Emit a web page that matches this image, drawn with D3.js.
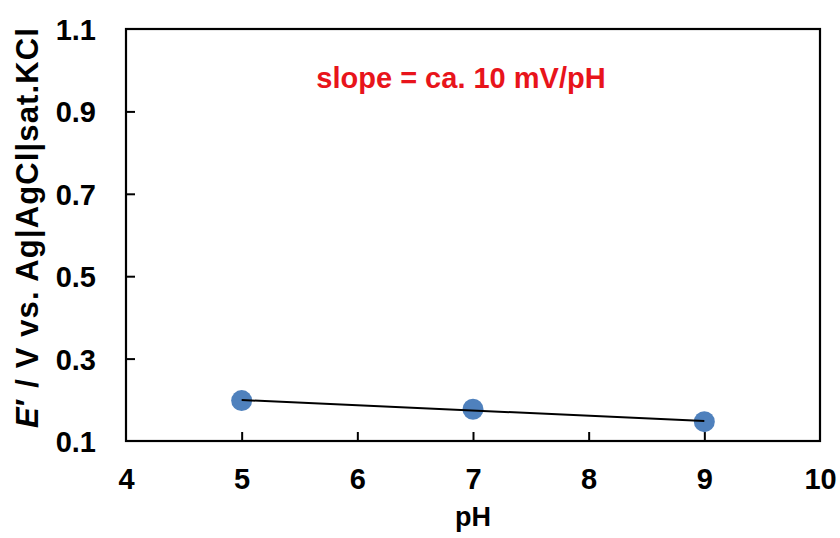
<!DOCTYPE html>
<html>
<head>
<meta charset="utf-8">
<script src="https://cdn.jsdelivr.net/npm/d3@7"></script>
<style>
  body { margin: 0; background: #fff; }
  svg text { font-family: "Liberation Sans", Arial, sans-serif; font-weight: bold; }
</style>
</head>
<body>
<div id="chart"></div>
<script>
// values
var pHValues = [5, 7, 9];
var potentials = [0.198, 0.177, 0.147];
var xTicks = [4, 5, 6, 7, 8, 9, 10];
var yTicks = [0.1, 0.3, 0.5, 0.7, 0.9, 1.1];
var annotation = "slope = ca. 10 mV/pH";

var W = 840, H = 538;
var margin = { left: 126, right: 20, top: 29, bottom: 97 };

var svg = d3.select('#chart')
    .append("svg")
    .attr("width", W)
    .attr("height", H);

var x = d3.scaleLinear().domain([4, 10]).range([margin.left, W - margin.right]);
var y = d3.scaleLinear().domain([0.1, 1.1]).range([H - margin.bottom, margin.top]);

// x axis, ticks point inward
var xAxis = svg.append("g")
    .attr("transform", "translate(0," + y(0.1) + ")")
    .call(d3.axisBottom(x).tickValues(xTicks).tickSizeInner(-9).tickSizeOuter(0).tickPadding(27).tickFormat(d3.format("d")));

var yAxis = svg.append("g")
    .attr("transform", "translate(" + x(4) + ",0)")
    .call(d3.axisLeft(y).tickValues(yTicks).tickSizeInner(-9).tickSizeOuter(0).tickPadding(30).tickFormat(d3.format(".1f")));

[xAxis, yAxis].forEach(function(a) {
    a.select(".domain").remove();
    a.selectAll(".tick line").attr("stroke", "#000").attr("stroke-width", 2);
    a.selectAll(".tick text").attr("fill", "#000").style("font-size", "29px");
});
yAxis.selectAll(".tick text").attr("dy", "0.36em");
// first tick sits on the frame
xAxis.selectAll(".tick").filter(function(d) { return d == 4 || d == 10; }).select("line").remove();
yAxis.selectAll(".tick").filter(function(d) { return d == 0.1 || d == 1.1; }).select("line").remove();

// plot frame
svg.append("rect")
    .attr("x", x(4))
    .attr("y", y(1.1))
    .attr("width", x(10) - x(4))
    .attr("height", y(0.1) - y(1.1))
    .attr("fill", "none")
    .attr("stroke", "#000")
    .attr("stroke-width", 2.2);

// least squares trend line
var mx = d3.mean(pHValues), my = d3.mean(potentials);
var sxy = d3.sum(pHValues, function(v, i) { return (v - mx) * (potentials[i] - my); });
var sxx = d3.sum(pHValues, function(v) { return (v - mx) * (v - mx); });
var slope = sxy / sxx, icpt = my - slope * mx;
var ends = d3.extent(pHValues);

svg.selectAll(".pt")
    .data(pHValues)
    .enter()
    .append("circle")
    .attr("class", "pt")
    .attr("cx", function(d) { return x(d); })
    .attr("cy", function(d, i) { return y(potentials[i]); })
    .attr("r", 10.5)
    .attr("fill", "#4f81bd");

// trend line drawn over the markers like the reference
svg.append("line")
    .attr("x1", x(ends[0]))
    .attr("y1", y(icpt + slope * ends[0]))
    .attr("x2", x(ends[1]))
    .attr("y2", y(icpt + slope * ends[1]))
    .attr("stroke", "#000")
    .attr("stroke-width", 2);

svg.append("text")
    .attr("x", 461)
    .attr("y", 88)
    .attr("text-anchor", "middle")
    .attr("fill", "#e8141b")
    .style("font-size", "29px")
    .text(annotation);

svg.append("text")
    .attr("x", 473)
    .attr("y", 526)
    .attr("text-anchor", "middle")
    .style("font-size", "27px")
    .text("pH");

var yl = svg.append("text")
    .attr("transform", "translate(38," + 228 + ") rotate(-90)")
    .attr("text-anchor", "middle")
    .attr("textLength", 400)
    .attr("lengthAdjust", "spacing")
    .style("font-size", "31px");
yl.append("tspan").style("font-style", "italic").text("E");
yl.append("tspan").text("\u2032 / V vs. Ag|AgCl|sat.KCl");
</script>
</body>
</html>
